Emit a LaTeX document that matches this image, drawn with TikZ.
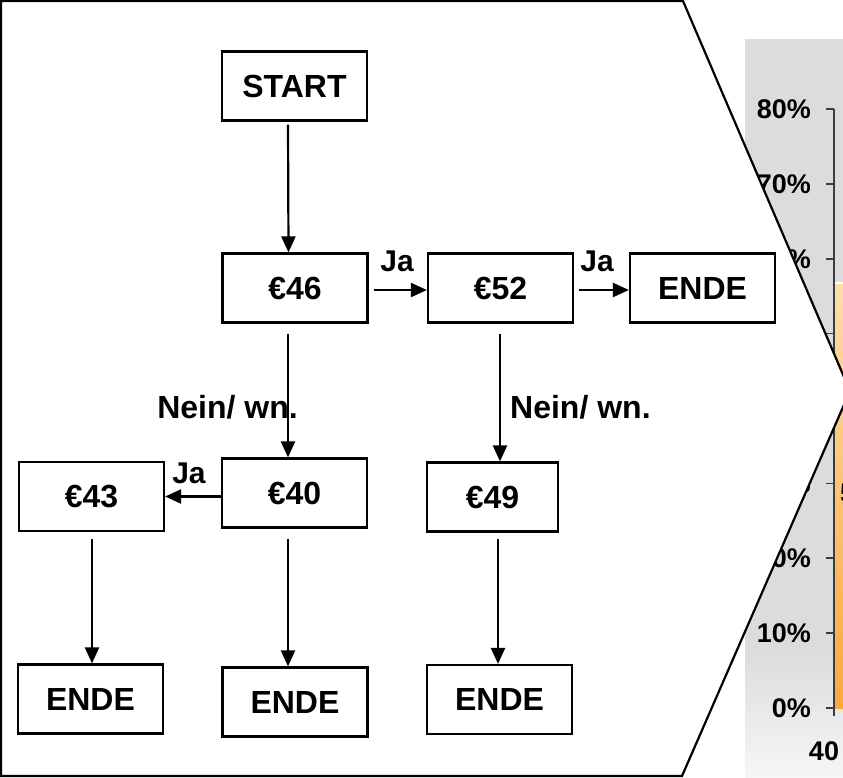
\documentclass[tikz,border=0pt]{standalone}
\usepackage{fontspec}
\setmainfont{Liberation Sans}
\usetikzlibrary{arrows.meta}
\definecolor{panel}{HTML}{DCDCDC}
\definecolor{panellight}{HTML}{F6F6F6}
\definecolor{axisgray}{HTML}{3C3C3C}
\definecolor{barlight}{HTML}{FFDDAA}
\definecolor{bardark}{HTML}{F9A93E}

\begin{document}
\begin{tikzpicture}[x=1pt,y=-1pt,
    every node/.style={font=\bfseries\fontsize{32}{38}\selectfont},
    box/.style={draw,line width=2.2pt,fill=white,inner sep=0pt,
      minimum width=145pt,minimum height=69pt},
    arr/.style={-{Triangle[length=16pt,width=14pt]},line width=2.2pt},
    ja/.style={font=\bfseries\fontsize{30}{34}\selectfont,inner sep=0pt},
    ticklbl/.style={font=\bfseries\fontsize{27}{30}\selectfont,inner sep=0pt}]
  \useasboundingbox (0,0) rectangle (843,777);
  % chart behind the frame
  \fill[panel] (745,39) rectangle (860,650);
  \shade[top color=panel,bottom color=panellight] (745,650) rectangle (860,777);
  \shade[top color=barlight,bottom color=bardark] (834,283) rectangle (860,708);
  \draw[white,line width=1.5pt] (834,283) -- (860,283);
  \draw[axisgray,line width=1.6pt] (834,109) -- (834,716);
  \foreach \v [count=\i from 0] in {80,70,...,0} {
    \draw[axisgray,line width=1.6pt] (826,109+74.875*\i) -- (834,109+74.875*\i);
    \node[ticklbl,anchor=east] (t\v) at (811,109+74.875*\i) {\v\%};
  }
  \node[ticklbl,anchor=north] (x40) at (824,741) {40};
  \node[ticklbl,anchor=west] (d5) at (840,493) {5};
  % frame
  \draw[line width=2.2pt,fill=white] (1,1) -- (683,1) -- (850,391)
    -- (682,776) -- (1,776) -- cycle;
  % flow
  \node[box] (start) at (294.5,86) {START};
  \node[box] (e46) at (295,288) {€46};
  \node[box] (e52) at (500.5,288) {€52};
  \node[box] (endeA) at (702.5,288) {ENDE};
  \node[box] (e40) at (294.5,493) {€40};
  \node[box] (e43) at (91.5,496.5) {€43};
  \node[box,minimum width=131pt] (e49) at (492.5,497) {€49};
  \node[box] (endeB) at (90.5,699) {ENDE};
  \node[box] (endeC) at (295,702) {ENDE};
  \node[box] (endeD) at (499.5,699.5) {ENDE};
  \draw[arr] ([xshift=-6.5pt,yshift=-3pt]start.south) -- ([xshift=-6.5pt]e46.north);
  \draw[arr] ([xshift=5pt,yshift=-2pt]e46.east) -- ([yshift=-2pt]e52.west);
  \draw[arr] ([xshift=5pt,yshift=-2pt]e52.east) -- ([yshift=-2pt]endeA.west);
  \draw[arr] ([xshift=-7pt,yshift=-10pt]e46.south) -- ([xshift=-6.5pt]e40.north);
  \draw[arr] ([xshift=-0.5pt,yshift=-10pt]e52.south) -- ([xshift=7.5pt]e49.north);
  \draw[arr] ([yshift=-3.5pt]e40.west) -- (e43.east);
  \draw[arr] ([xshift=0.5pt,yshift=-7pt]e43.south) -- ([xshift=1.5pt]endeB.north);
  \draw[arr] ([xshift=-6.5pt,yshift=-10pt]e40.south) -- ([xshift=-7pt]endeC.north);
  \draw[arr] ([xshift=5.5pt,yshift=-6pt]e49.south) -- ([xshift=-1.5pt]endeD.north);
  \node[ja] (ja1) at (397,261) {Ja};
  \node[ja] (ja2) at (597,261) {Ja};
  \node[ja] (ja3) at (189,473) {Ja};
  \node[anchor=east,inner sep=0pt] (nein1) at (298,407) {Nein/ wn.};
  \node[anchor=west,inner sep=0pt] (nein2) at (510,407) {Nein/ wn.};
\end{tikzpicture}
\end{document}
